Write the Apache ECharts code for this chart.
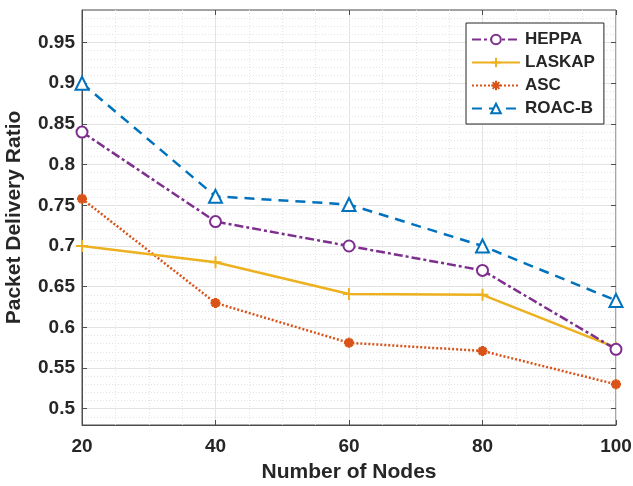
<!DOCTYPE html>
<html lang="en">
<head>
    <meta charset="UTF-8">
    <script src="https://cdn.jsdelivr.net/npm/echarts@6.0.0/dist/echarts.min.js"></script>
    <style>
        html, body { margin: 0; padding: 0; background: #fff; }
        #chart { width: 633px; height: 486px; }
    </style>
    <title>Packet Delivery Ratio</title>
</head>
<body>
    <div id="chart"></div>
    <script type="text/javascript">
        // data
        var nodes = [20, 40, 60, 80, 100];
        var heppa = [0.84, 0.73, 0.70, 0.67, 0.573];
        var laskap = [0.70, 0.68, 0.641, 0.64, 0.575];
        var asc = [0.758, 0.63, 0.581, 0.571, 0.53];
        var roacb = [0.90, 0.761, 0.751, 0.70, 0.633];
        var yTicks = [0.5, 0.55, 0.6, 0.65, 0.7, 0.75, 0.8, 0.85, 0.9, 0.95];
        var xTicks = [20, 40, 60, 80, 100];

        var txt = '#262626';
        var axisCol = '#4d4d4d';
        var gridCol = '#e3e3e3';
        var font = 'Liberation Sans';

        function pairs(ys) {
            return nodes.map(function (x, i) { return [x, ys[i]]; });
        }

        var plusPath = 'path://M5,0L5,10M0,5L10,5';
        var starPath = 'path://M5,0L5,10M0,5L10,5M1.5,1.5L8.5,8.5M8.5,1.5L1.5,8.5';

        var chart = echarts.init(document.getElementById('chart'));
        var option = {
            animation: false,
            backgroundColor: '#fff',
            grid: {
                left: 82, right: 17, top: 10, bottom: 61,
                outerBoundsMode: 'none',
                show: true, borderColor: axisCol, borderWidth: 1
            },
            legend: {
                orient: 'vertical',
                left: 466, top: 23,
                backgroundColor: '#fff',
                borderColor: txt, borderWidth: 1, borderRadius: 0,
                padding: [8, 9, 7, 5],
                itemWidth: 48, itemHeight: 12, itemGap: 6,
                textStyle: { fontFamily: font, fontWeight: 'bold', fontSize: 17, color: txt },
                data: ['HEPPA', 'LASKAP', 'ASC', 'ROAC-B']
            },
            xAxis: [{
                type: 'value', min: 20, max: 100, interval: 20,
                name: 'Number of Nodes', nameLocation: 'middle', nameGap: 37,
                nameTextStyle: { fontFamily: font, fontWeight: 'bold', fontSize: 21, color: txt },
                axisLine: { show: true, lineStyle: { color: axisCol } },
                axisTick: { inside: true, length: 5, lineStyle: { color: axisCol } },
                axisLabel: {
                    margin: 12, fontFamily: font, fontWeight: 'bold', fontSize: 19, color: txt,
                    customValues: xTicks
                },
                splitLine: { show: true, lineStyle: { color: gridCol, width: 1 } },
                minorTick: { show: false, splitNumber: 4 },
                minorSplitLine: { show: true, lineStyle: { color: gridCol, type: [1, 2] } }
            }, {
                type: 'value', min: 20, max: 100, interval: 20, position: 'top',
                axisLine: { show: false },
                axisTick: { inside: true, length: 5, lineStyle: { color: axisCol } },
                axisLabel: { show: false },
                splitLine: { show: false }
            }],
            yAxis: [{
                type: 'value', min: 0.48, max: 0.99,
                name: 'Packet Delivery Ratio', nameLocation: 'middle', nameGap: 57,
                nameTextStyle: { fontFamily: font, fontWeight: 'bold', fontSize: 21, color: txt },
                axisLine: { show: true, lineStyle: { color: axisCol } },
                axisTick: { inside: true, length: 5, lineStyle: { color: axisCol }, customValues: yTicks },
                axisLabel: {
                    margin: 7, fontFamily: font, fontWeight: 'bold', fontSize: 19, color: txt,
                    customValues: yTicks,
                    formatter: function (v) { return String(Math.round(v * 100) / 100); }
                },
                splitLine: { show: true, lineStyle: { color: gridCol, width: 1 } }
            }, {
                // minor dotted grid every 0.01
                type: 'value', min: 0.48, max: 0.99, interval: 0.01, position: 'left',
                axisLine: { show: false }, axisTick: { show: false }, axisLabel: { show: false },
                splitLine: { show: true, lineStyle: { color: gridCol, type: [1, 2] } },
                z: -1
            }, {
                type: 'value', min: 0.48, max: 0.99, position: 'right',
                axisLine: { show: false },
                axisTick: { inside: true, length: 5, lineStyle: { color: axisCol }, customValues: yTicks },
                axisLabel: { show: false },
                splitLine: { show: false }
            }],
            series: [{
                name: 'HEPPA', type: 'line', data: pairs(heppa),
                symbol: 'emptyCircle', symbolSize: 11,
                itemStyle: { color: '#7E2F8E', borderWidth: 2 },
                lineStyle: { color: '#7E2F8E', width: 2.5, type: [9, 3, 3, 3] },
                z: 4
            }, {
                name: 'LASKAP', type: 'line', data: pairs(laskap),
                symbol: plusPath, symbolSize: 12,
                itemStyle: { color: '#EDB120', borderColor: '#EDB120', borderWidth: 2 },
                lineStyle: { color: '#EDB120', width: 2.5 },
                z: 3
            }, {
                name: 'ASC', type: 'line', data: pairs(asc),
                symbol: starPath, symbolSize: 10,
                itemStyle: { color: '#D95319', borderColor: '#D95319', borderWidth: 3 },
                lineStyle: { color: '#D95319', width: 2.5, type: [2, 2] },
                z: 2
            }, {
                name: 'ROAC-B', type: 'line', data: pairs(roacb),
                symbol: 'emptyTriangle', symbolSize: 13,
                itemStyle: { color: '#0072BD', borderWidth: 2 },
                lineStyle: { color: '#0072BD', width: 2.5, type: [10, 7] },
                z: 5
            }]
        };
        chart.setOption(option);
    </script>
</body>
</html>
